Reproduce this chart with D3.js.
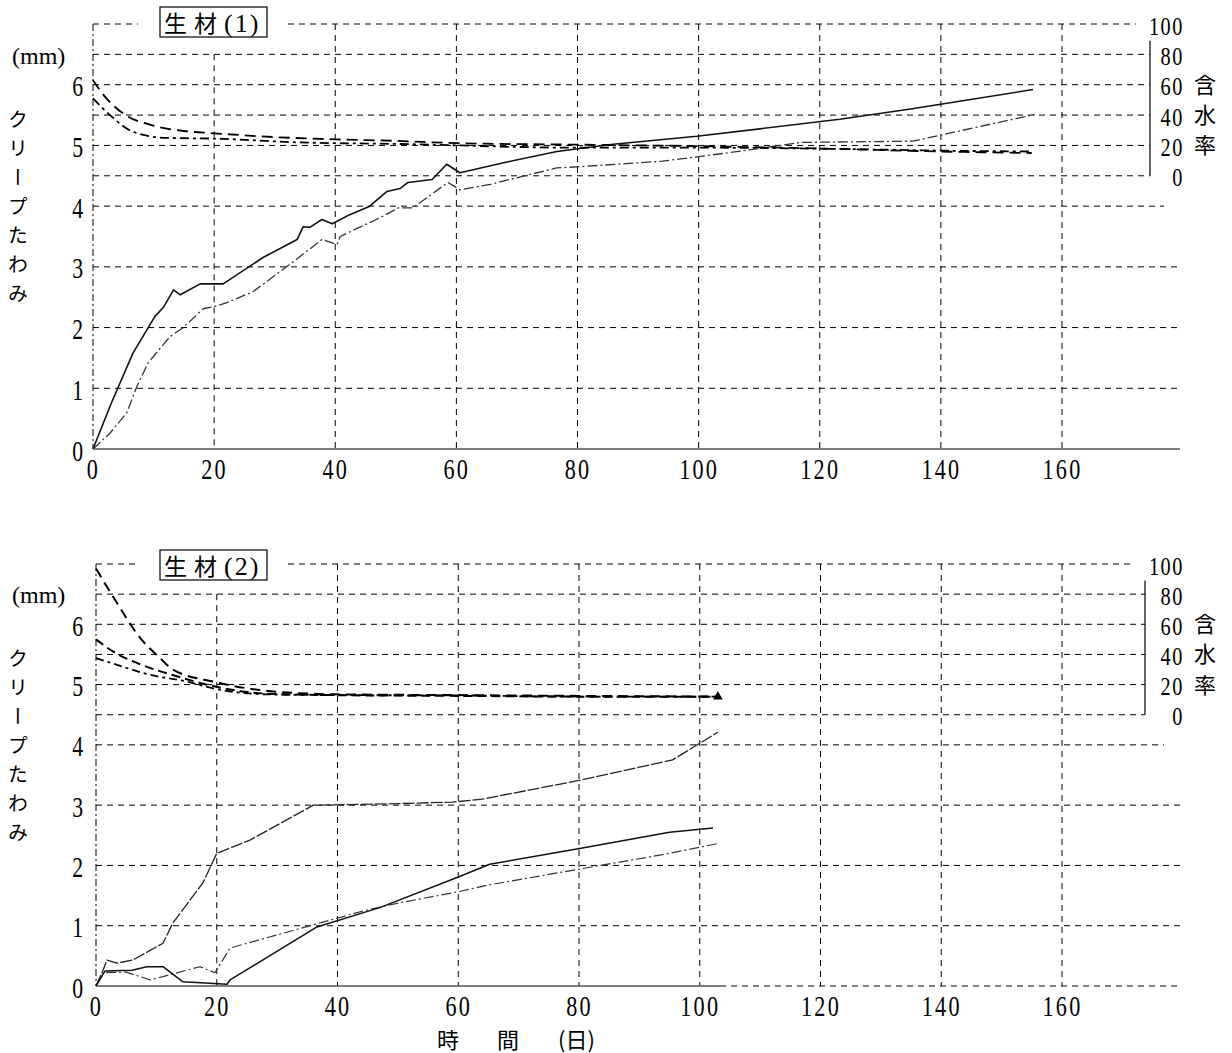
<!DOCTYPE html>
<html>
<head>
<meta charset="utf-8">
<script src="https://cdn.jsdelivr.net/npm/d3@7"></script>
<style>
  body { margin: 0; background: #fff; }
  svg { display: block; }
</style>
</head>
<body>
<div id="chart"></div>
<script>
// x ticks (days), y ticks (mm), moisture ticks (%)
const dayTicks = [0, 20, 40, 60, 80, 100, 120, 140, 160];
const mmTicks = [0, 1, 2, 3, 4, 5, 6];
const moistTicks = [0, 20, 40, 60, 80, 100];

// 生材(1): creep deflection (mm) vs days
const creep1A = [[0,0],[3,0.75],[6.6,1.58],[10.2,2.18],[11.6,2.33],[13.3,2.62],[14.4,2.54],[17.7,2.72],[21.5,2.72],[28,3.15],[33.7,3.45],[34.7,3.66],[35.8,3.65],[37.8,3.78],[39.5,3.71],[42.4,3.86],[45.7,4.0],[48.5,4.24],[50.7,4.29],[52,4.39],[56,4.44],[58.4,4.69],[60.6,4.55],[68,4.72],[76.6,4.9],[85.9,5.02],[99.7,5.15],[123.3,5.43],[135,5.6],[155.2,5.92]];
const creep1B = [[0,0],[2.8,0.26],[5.6,0.6],[7.2,1.02],[9.1,1.42],[12.7,1.85],[14.9,2.0],[18.2,2.31],[19.8,2.34],[22.1,2.41],[26.4,2.59],[32.5,3.04],[37.8,3.45],[40.3,3.37],[40.8,3.5],[47.4,3.81],[50.4,3.97],[52.8,3.97],[58.6,4.39],[60.6,4.27],[65.6,4.36],[76.6,4.63],[80.4,4.65],[94,4.74],[105,4.88],[117,5.05],[135.4,5.07],[155.5,5.51]];
// 生材(1): moisture content (%)
const moist1A = [[0,63],[2,52],[5,41],[10,33],[15,29.5],[20,28],[30,25.5],[40,24],[50,23],[60,21.5],[80,20.5],[100,19.5],[120,18],[140,16],[155,15]];
const moist1B = [[0,51],[2.8,40],[6.6,29],[12,25],[20,24.5],[34,22],[50,21],[80,18.5],[102,18.5],[121,17.8],[141.5,16.5],[155,16]];

// 生材(2): creep deflection (mm)
const creep2A = [[0,0],[1.2,0.27],[1.8,0.43],[3.5,0.38],[6.1,0.43],[11.1,0.71],[12.7,1.04],[17.7,1.71],[20,2.2],[25.5,2.42],[36,3.0],[48,3.02],[59,3.05],[64,3.1],[80,3.41],[95.5,3.75],[103,4.21]];
const creep2B = [[0,0],[1.2,0.22],[5,0.23],[9,0.1],[17.2,0.32],[19.7,0.22],[22.2,0.63],[37.6,1.06],[44.8,1.26],[50.3,1.38],[59.8,1.56],[64.7,1.67],[80.1,1.94],[94.5,2.19],[103.3,2.37]];
const creep2C = [[0,0],[1.5,0.25],[6,0.26],[8.4,0.32],[11.1,0.32],[14.4,0.07],[21.7,0.03],[22.2,0.1],[36.6,0.98],[47,1.3],[59.8,1.8],[65.2,2.02],[80.1,2.28],[95,2.55],[102.2,2.62]];
// 生材(2): moisture content (%)
const moist2A = [[0,97],[3.5,74],[7.3,51],[10.6,37.6],[12.7,30],[19.4,22],[28,16],[40,13.5],[60,13],[80,12.5],[103,12]];
const moist2B = [[0,50],[2.8,42],[7.3,33.5],[13.4,25.5],[19.4,19],[28.3,14],[39.3,13],[60,12.5],[80,12],[103,12]];
const moist2C = [[0,37.6],[5.1,31],[8.4,27],[15,22],[20,17],[28.3,13.5],[40,13],[60,12.8],[80,12],[103,12]];

const width = 1232, height = 1053;
const serif = '"Liberation Serif", "DejaVu Serif", serif';
const cjk = '"Noto Sans CJK JP", "Noto Sans CJK SC", sans-serif';

const svg = d3.select('#chart').append('svg')
    .attr('width', width)
    .attr('height', height);

function drawPanel(p) {
    let x = d3.scaleLinear().domain([0, 160]).range([p.x0, 1062]);
    let y = d3.scaleLinear().domain([0, 7]).range([p.y0, p.y7]);
    let ym = d3.scaleLinear().domain([0, 100]).range([y(4.5), y(7)]);
    let g = svg.append('g');
    let right = 1180;

    // horizontal grid
    let grid = g.append('g')
        .attr('stroke', '#000')
        .attr('stroke-width', 1)
        .attr('stroke-dasharray', '6,5')
        .attr('fill', 'none');
    [4.5, 5, 5.5, 6, 6.5].forEach(function (v) {
        grid.append('line').attr('x1', x(0)).attr('x2', p.axisX).attr('y1', y(v)).attr('y2', y(v));
    });
    [1, 2, 3].forEach(function (v) {
        grid.append('line').attr('x1', x(0)).attr('x2', right).attr('y1', y(v)).attr('y2', y(v));
    });
    grid.append('line').attr('x1', x(0)).attr('x2', right - 16).attr('y1', y(4)).attr('y2', y(4));
    // top line, broken by the title box
    grid.append('line').attr('x1', x(0)).attr('x2', 138).attr('y1', y(7)).attr('y2', y(7));
    grid.append('line').attr('x1', 288).attr('x2', p.axisX - 14).attr('y1', y(7)).attr('y2', y(7));

    // vertical grid
    dayTicks.slice(1).forEach(function (d) {
        grid.append('line')
            .attr('x1', x(d)).attr('x2', x(d))
            .attr('y1', d === 20 ? y(6.5) : y(7))
            .attr('y2', y(0));
    });
    grid.append('line')
        .attr('x1', x(0)).attr('x2', x(0)).attr('y1', y(7)).attr('y2', y(0))
        .attr('stroke-dasharray', '7,3,2,3');

    // baseline
    g.append('line')
        .attr('x1', x(0)).attr('x2', p.baseSolidTo)
        .attr('y1', y(0)).attr('y2', y(0))
        .attr('stroke', '#555').attr('stroke-width', 1.6);
    if (p.baseSolidTo < right) {
        g.append('line')
            .attr('x1', p.baseSolidTo).attr('x2', right)
            .attr('y1', y(0)).attr('y2', y(0))
            .attr('stroke', '#000').attr('stroke-dasharray', '6,5');
    }

    // moisture axis line
    g.append('line')
        .attr('x1', p.axisX).attr('x2', p.axisX)
        .attr('y1', ym(89)).attr('y2', ym(0))
        .attr('stroke', '#000').attr('stroke-width', 1.2);

    // x axis
    let xa = g.append('g')
        .attr('transform', 'translate(0,' + y(0) + ')')
        .call(d3.axisBottom(x).tickValues(dayTicks).tickSize(0).tickFormat(d3.format('d')));
    xa.select('.domain').remove();
    xa.selectAll('text')
        .attr('y', 0).attr('dy', null)
        .attr('transform', 'translate(0,30) scale(0.74,1)')
        .style('font-family', serif).style('font-size', '30px')
        .style('letter-spacing', '3px')
        .attr('fill', '#000');

    // left axis
    let ya = g.append('g')
        .attr('transform', 'translate(' + x(0) + ',0)')
        .call(d3.axisLeft(y).tickValues(mmTicks).tickSize(0).tickFormat(d3.format('d')));
    ya.select('.domain').remove();
    ya.selectAll('text')
        .attr('x', 0).attr('dy', null)
        .attr('text-anchor', 'end')
        .attr('transform', 'translate(' + (83 - x(0)) + ',11) scale(0.75,1)')
        .style('font-family', serif).style('font-size', '29px')
        .attr('fill', '#000');

    // right (moisture) axis
    let ra = g.append('g')
        .attr('transform', 'translate(' + p.axisX + ',0)')
        .call(d3.axisRight(ym).tickValues(moistTicks).tickSize(0).tickFormat(d3.format('d')));
    ra.select('.domain').remove();
    ra.selectAll('text')
        .attr('x', 0).attr('dy', null)
        .attr('text-anchor', 'end')
        .attr('transform', 'translate(' + (1184 - p.axisX) + ',10) scale(0.78,1)')
        .style('font-family', serif).style('font-size', '26px')
        .style('letter-spacing', '2px')
        .attr('fill', '#000');

    ['含', '水', '率'].forEach(function (c, i) {
        g.append('text')
            .attr('x', 1194)
            .attr('y', ym(60 - i * 20) + 8)
            .style('font-family', cjk).style('font-size', '22px')
            .text(c);
    });

    // labels
    g.append('text')
        .attr('x', 12).attr('y', p.mmY)
        .style('font-family', serif).style('font-size', '24px')
        .text('(mm)');
    g.append('text')
        .attr('x', 18).attr('y', p.mmY + 45)
        .style('writing-mode', 'vertical-rl')
        .style('font-family', cjk).style('font-size', '20px')
        .style('letter-spacing', '9px')
        .text('クリープたわみ');

    // title box
    g.append('rect')
        .attr('x', 160).attr('y', p.boxY)
        .attr('width', 107).attr('height', 30)
        .attr('fill', '#fff').attr('stroke', '#000').attr('stroke-width', 1.2);
    let t = g.append('text')
        .attr('x', 164).attr('y', p.boxY + 25);
    t.append('tspan')
        .style('font-family', cjk).style('font-size', '23px')
        .style('letter-spacing', '7px')
        .text('生材');
    t.append('tspan')
        .style('font-family', serif).style('font-size', '26px')
        .style('letter-spacing', '2px')
        .text(p.title);

    let line = d3.line()
        .x(function (d) { return x(d[0]); })
        .y(function (d) { return y(d[1]); });
    let mline = d3.line()
        .curve(d3.curveMonotoneX)
        .x(function (d) { return x(d[0]); })
        .y(function (d) { return ym(d[1]); });

    p.creep.forEach(function (s) {
        g.append('path')
            .attr('d', line(s.data))
            .attr('fill', 'none')
            .attr('stroke', s.color)
            .attr('stroke-width', s.w)
            .attr('stroke-dasharray', s.dash)
            .attr('stroke-linejoin', 'round');
    });
    p.moist.forEach(function (s) {
        g.append('path')
            .attr('d', mline(s.data))
            .attr('fill', 'none')
            .attr('stroke', '#000')
            .attr('stroke-width', s.w)
            .attr('stroke-dasharray', s.dash);
    });
    if (p.marker) {
        g.append('path')
            .attr('d', d3.symbol().type(d3.symbolTriangle).size(40)())
            .attr('transform', 'translate(' + x(p.marker[0]) + ',' + ym(p.marker[1]) + ')')
            .attr('fill', '#000');
    }
}

drawPanel({
    x0: 93, y0: 449, y7: 24, axisX: 1150, mmY: 64, boxY: 7,
    title: '(1)', baseSolidTo: 1180,
    creep: [
        { data: creep1A, color: '#111', w: 1.6, dash: null },
        { data: creep1B, color: '#333', w: 1.3, dash: '10,3,2,3' }
    ],
    moist: [
        { data: moist1A, w: 1.8, dash: '11,6' },
        { data: moist1B, w: 1.8, dash: '9,4,3,4' }
    ]
});

drawPanel({
    x0: 96, y0: 986, y7: 564, axisX: 1145, mmY: 603, boxY: 550,
    title: '(2)', baseSolidTo: 720,
    creep: [
        { data: creep2A, color: '#222', w: 1.3, dash: '12,2' },
        { data: creep2B, color: '#333', w: 1.2, dash: '10,3,2,3' },
        { data: creep2C, color: '#111', w: 1.5, dash: null }
    ],
    moist: [
        { data: moist2A, w: 2, dash: '10,6' },
        { data: moist2B, w: 2, dash: '9,5' },
        { data: moist2C, w: 1.8, dash: '8,4,3,4' }
    ],
    marker: [103, 12]
});

svg.append('text')
    .attr('y', 1048)
    .style('font-family', cjk).style('font-size', '22px')
    .selectAll('tspan')
    .data([['時', 437], ['間', 497], ['(日)', 558]])
    .enter()
    .append('tspan')
    .attr('x', function (d) { return d[1]; })
    .text(function (d) { return d[0]; });
</script>
</body>
</html>
